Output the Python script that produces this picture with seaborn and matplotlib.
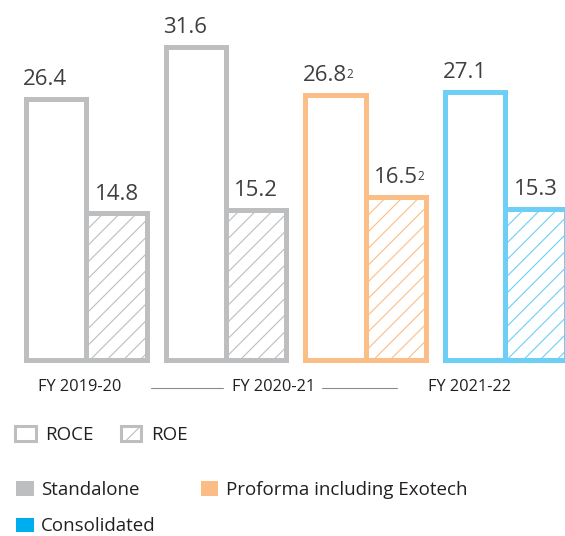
import matplotlib
matplotlib.use("Agg")
import matplotlib.pyplot as plt
import seaborn as sns
import pandas as pd
from matplotlib.patches import Patch
from matplotlib.lines import Line2D
from matplotlib.transforms import blended_transform_factory

# ---- data ----
groups = ["Standalone 2019-20", "Standalone 2020-21", "Proforma 2020-21", "Consolidated 2021-22"]
roce = [26.4, 31.6, 26.8, 27.1]
roe = [14.8, 15.2, 16.5, 15.3]
footnotes = ["", "", "2", ""]
group_colors = ["#BDBEC0", "#BDBEC0", "#FBBE87", "#6DCFF6"]
fy_labels = ["FY 2019-20", "FY 2020-21", "FY 2021-22"]
fy_positions = [-0.045, 1.344, 2.746]
legend_kinds = ["ROCE", "ROE"]
legend_entities = ["Standalone", "Consolidated", "Proforma including Exotech"]
legend_entity_colors = ["#BCBEC0", "#00AEEF", "#FBBC85"]

df = pd.DataFrame({
    "group": groups * 2,
    "metric": ["ROCE"] * 4 + ["ROE"] * 4,
    "value": roce + roe,
})

sns.set_theme(style="white")
plt.rcParams["font.family"] = ["Open Sans", "DejaVu Sans"]
plt.rcParams["hatch.linewidth"] = 0.8

W, H = 565, 536
fig = plt.figure(figsize=(W / 100, H / 100), dpi=100)
base_px = 360
ax = fig.add_axes([0, (H - base_px) / H, 1, base_px / H])

sns.barplot(data=df, x="group", y="value", hue="metric", order=groups,
            hue_order=["ROCE", "ROE"], width=0.866, gap=0, ax=ax,
            legend=False, palette=["white", "white"], saturation=1)

ax.set_xlim(-86.3 / 139.7, (W - 86.3) / 139.7)
ax.set_ylim(0, base_px / 9.9)
ax.set_axis_off()

lw = 3.6
bars_roce = ax.containers[0]
bars_roe = ax.containers[1]
for i, p in enumerate(bars_roce):
    p.set_facecolor("white")
    p.set_edgecolor(group_colors[i])
    p.set_linewidth(lw)
    p.set_clip_on(False)
for i, p in enumerate(bars_roe):
    p.set_facecolor("white")
    p.set_edgecolor(group_colors[i])
    p.set_hatch("//")
    p.set_linewidth(lw)
    p.set_clip_on(False)
    p.set_zorder(3)

val_color = "#3F3F3F"
val_fs = 16
for i, p in enumerate(bars_roce):
    t = ax.annotate(f"{roce[i]:.1f}", xy=(p.get_x(), p.get_height()),
                    xytext=(-2.5 * 0.72, 10), textcoords="offset points",
                    ha="left", va="baseline", fontsize=val_fs, color=val_color)
    if footnotes[i]:
        ax.annotate(footnotes[i], xy=(1.0, 0.84), xycoords=t, xytext=(-0.5, 0),
                    textcoords="offset points", ha="left", va="top",
                    fontsize=8.5, color=val_color)
for i, p in enumerate(bars_roe):
    t = ax.annotate(f"{roe[i]:.1f}", xy=(p.get_x() + p.get_width() / 2, p.get_height()),
                    xytext=(0, 10), textcoords="offset points",
                    ha="center", va="baseline", fontsize=val_fs, color=val_color)
    if footnotes[i]:
        ax.annotate(footnotes[i], xy=(1.0, 0.84), xycoords=t, xytext=(-0.5, 0),
                    textcoords="offset points", ha="left", va="top",
                    fontsize=8.5, color=val_color)

# financial year labels below bars
tr = blended_transform_factory(ax.transData, fig.transFigure)
y_lab = (H - 387) / H
for lab, xp in zip(fy_labels, fy_positions):
    ax.text(xp, y_lab, lab, transform=tr, ha="center", va="center",
            fontsize=11.8, color="#231F20")
y_line = (H - 388) / H
for x0, x1 in [(151, 223), (322, 397)]:
    fig.add_artist(Line2D([x0 / W, x1 / W], [y_line, y_line],
                          transform=fig.transFigure, color="#8C8C8C", lw=0.8))

# legends
leg_fs = 13.5
h1 = [Patch(facecolor="white", edgecolor="#BDBEC0", linewidth=2.2),
      Patch(facecolor="white", edgecolor="#BDBEC0", linewidth=2.2, hatch="//")]
leg1 = fig.legend(h1, legend_kinds, loc="center left",
                  bbox_to_anchor=(15 / W, (H - 435) / H), ncol=2, frameon=False,
                  fontsize=leg_fs, handlelength=1.1, handleheight=0.9,
                  handletextpad=0.5, columnspacing=1.45, borderpad=0,
                  borderaxespad=0)
for t in leg1.get_texts():
    t.set_color("#231F20")

h2 = [Patch(facecolor=c, edgecolor="none") for c in legend_entity_colors]
leg2 = fig.legend(h2, legend_entities, loc="upper left",
                  bbox_to_anchor=(16 / W, (H - 481) / H), ncol=2, frameon=False,
                  fontsize=leg_fs, handlelength=0.95, handleheight=0.8,
                  handletextpad=0.4, columnspacing=2.38, labelspacing=0.98,
                  borderpad=0, borderaxespad=0)
for t in leg2.get_texts():
    t.set_color("#231F20")

fig.savefig("out.png", dpi=100)
